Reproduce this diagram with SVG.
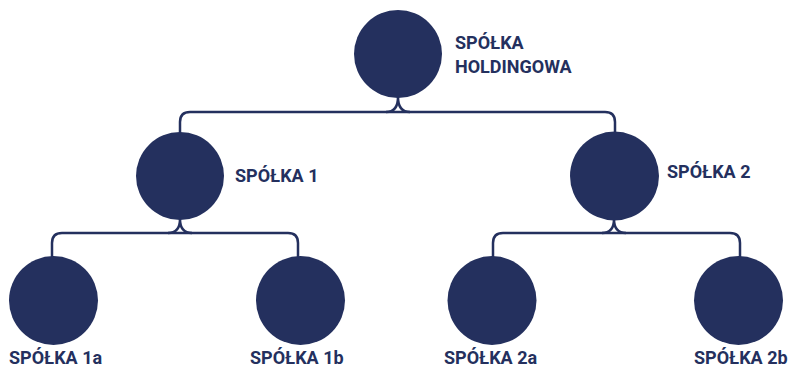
<svg xmlns="http://www.w3.org/2000/svg" width="793" height="368" viewBox="0 0 793 368">
<style>
.n{fill:#24305e}
.t{font-family:Roboto,"Liberation Sans",sans-serif;font-weight:bold;font-size:18px;fill:#24305e}
.c{fill:none;stroke:#24305e;stroke-width:2.5}
</style>
<rect width="793" height="368" fill="#fff"/>
<g id="connectors">
<path class="c" d="M180 136 V122 Q180 112 190 112 H605 Q615 112 615 122 V134"/>
<path class="c" d="M398 97 C398 107 394 112 386 112 M398 97 C398 107 402 112 410 112"/>
<path class="c" d="M52 257 V243 Q52 233 62 233 H288 Q298 233 298 243 V257"/>
<path class="c" d="M180 219 C180 228 176 233 168 233 M180 219 C180 228 184 233 192 233"/>
<path class="c" d="M493 257 V243 Q493 233 503 233 H730 Q740 233 740 243 V257"/>
<path class="c" d="M614 219 C614 228 610 233 602 233 M614 219 C614 228 618 233 626 233"/>
</g>
<g id="holding">
<circle class="n" cx="398" cy="54" r="44"/>
<text class="t" x="455" y="49">SPÓŁKA</text>
<text class="t" x="455" y="73">HOLDINGOWA</text>
</g>
<g id="spolka1">
<circle class="n" cx="180" cy="176" r="44"/>
<text class="t" x="235" y="182">SPÓŁKA 1</text>
</g>
<g id="spolka2">
<circle class="n" cx="614.5" cy="176" r="44.5"/>
<text class="t" x="667" y="178">SPÓŁKA 2</text>
</g>
<g id="spolka1a">
<circle class="n" cx="53.5" cy="300.5" r="44.5"/>
<text class="t" x="9" y="364">SPÓŁKA 1a</text>
</g>
<g id="spolka1b">
<circle class="n" cx="300.5" cy="300.5" r="44.5"/>
<text class="t" x="250" y="364">SPÓŁKA 1b</text>
</g>
<g id="spolka2a">
<circle class="n" cx="492" cy="300.5" r="44.5"/>
<text class="t" x="444" y="364">SPÓŁKA 2a</text>
</g>
<g id="spolka2b">
<circle class="n" cx="738.5" cy="300.5" r="44.5"/>
<text class="t" x="694" y="364">SPÓŁKA 2b</text>
</g>
</svg>
